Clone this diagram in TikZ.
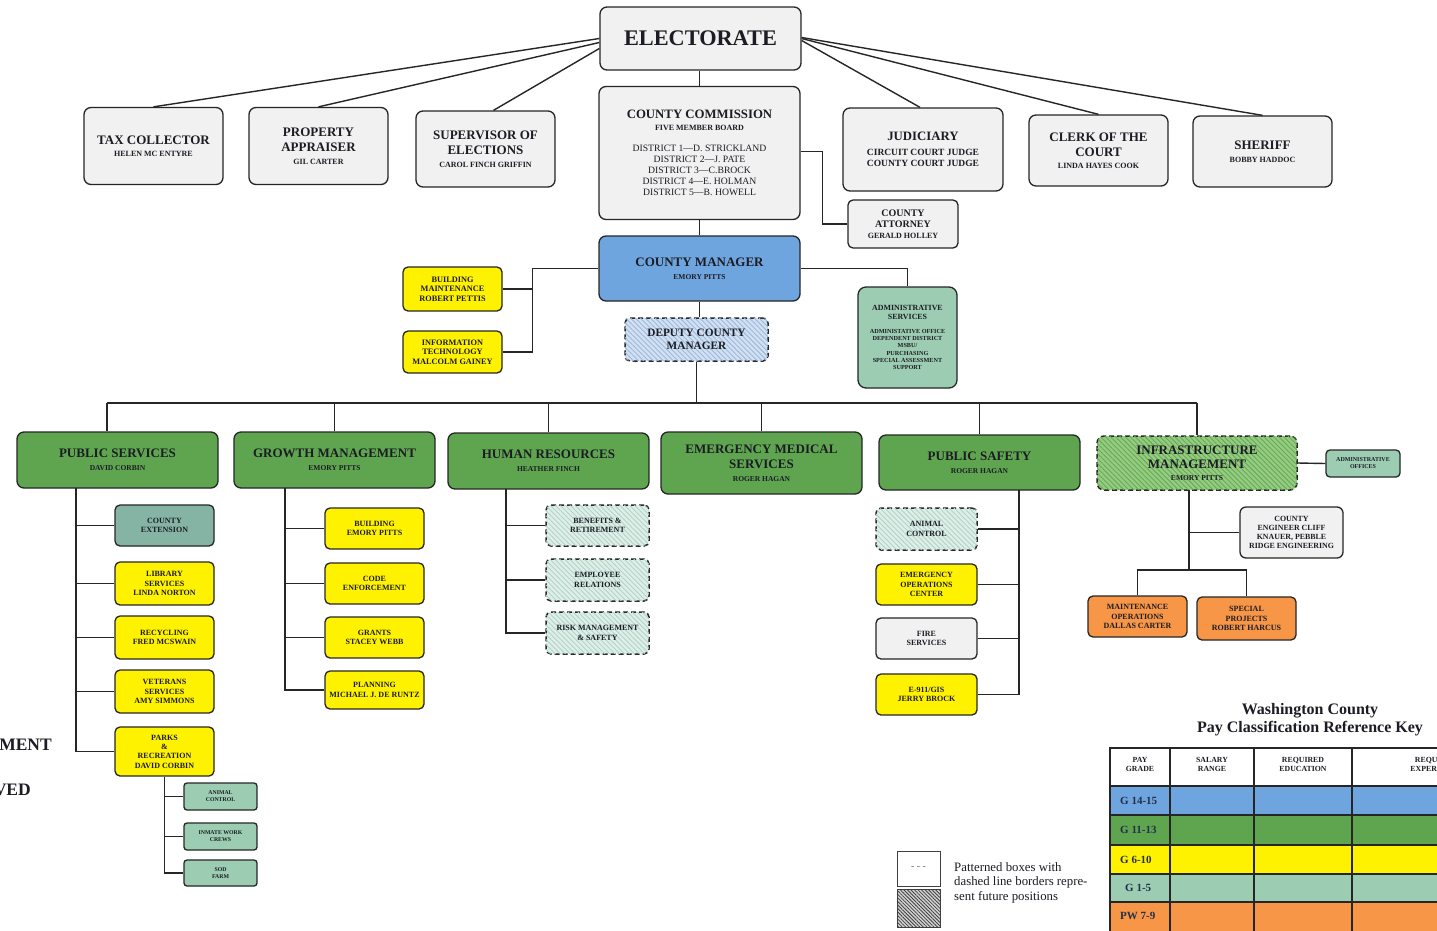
\documentclass[tikz,border=0pt]{standalone}
\usepackage{fontspec}
\setmainfont{Liberation Serif}
\usetikzlibrary{patterns.meta}
\newcommand\myfs[2]{\fontsize{#1}{#2}\selectfont}
\definecolor{boxgray}{HTML}{F1F1F1}
\definecolor{mgrblue}{HTML}{6FA5DE}
\definecolor{deptgreen}{HTML}{5FA550}
\definecolor{yel}{HTML}{FFF200}
\definecolor{teal}{HTML}{9CCDB2}
\definecolor{ceteal}{HTML}{86B4A4}
\definecolor{orng}{HTML}{F79646}
\definecolor{txt}{HTML}{1C1C24}
\definecolor{deplight}{HTML}{D2E1F2}
\definecolor{dephatch}{HTML}{9DB9DC}
\definecolor{hrlight}{HTML}{DDEFE8}
\definecolor{hrhatch}{HTML}{B4D3C6}
\definecolor{inflight}{HTML}{94CC80}
\definecolor{infhatch}{HTML}{6AA85A}
\definecolor{navy}{HTML}{22304A}
\tikzset{
  box/.style={draw=black!85, line width=1.3pt, rounded corners=7pt, align=center, inner sep=1pt, text=txt},
  gbox/.style={box, fill=boxgray},
  bbox/.style={box, fill=mgrblue},
  dbox/.style={box, fill=deptgreen, minimum width=201pt, font=\myfs{13}{11}\bfseries},
  ybox/.style={box, fill=yel, rounded corners=5pt, minimum width=99pt, font=\myfs{8}{9.3}\bfseries},
  tbox/.style={box, fill=teal, rounded corners=5pt},
  obox/.style={box, fill=orng, rounded corners=5pt, minimum width=99pt, font=\myfs{8}{9.3}\bfseries},
  fut/.style={box, dash pattern=on 5pt off 3pt, line width=1.5pt},
  conn/.style={draw=black!85, line width=1.4pt},
  hatch/.style={postaction={pattern={Lines[angle=-45,distance=3.5pt,line width=0.9pt]}, pattern color=#1}},
}
\begin{document}
\begin{tikzpicture}[x=1pt,y=-1pt]
\clip (0,0) rectangle (1437,930);
\fill[white] (0,0) rectangle (1437,930);

% ---------- top level ----------
\node[gbox, minimum width=201pt, minimum height=63pt, font=\myfs{22.3}{24}\bfseries] (elect) at (700.5,38.5) {ELECTORATE};

\node[gbox, minimum width=139pt, minimum height=77pt, font=\myfs{13}{10.5}\bfseries] (tax) at (153.5,146)
  {TAX COLLECTOR\\[2pt]\myfs{8}{10.5}HELEN MC ENTYRE};
\node[gbox, minimum width=139pt, minimum height=77pt, font=\myfs{13}{10.5}\bfseries] (prop) at (318.5,146)
  {PROPERTY\\[4.5pt]APPRAISER\\[2pt]\myfs{8}{10.5}GIL CARTER};
\node[gbox, minimum width=139pt, minimum height=76pt, font=\myfs{13}{10.5}\bfseries] (sup) at (485.5,149)
  {SUPERVISOR OF\\[4.5pt]ELECTIONS\\[2pt]\myfs{8}{10.5}CAROL FINCH GRIFFIN};
\node[gbox, minimum width=201pt, minimum height=133pt, font=\myfs{12.8}{11}\bfseries] (comm) at (699.5,153)
  {COUNTY COMMISSION\\[1.5pt]\myfs{8}{11}FIVE MEMBER BOARD\\[10pt]\mdseries\myfs{9.7}{11}DISTRICT 1—D. STRICKLAND\\\mdseries\myfs{9.7}{11}DISTRICT 2—J. PATE\\\mdseries\myfs{9.7}{11}DISTRICT 3—C.BROCK\\\mdseries\myfs{9.7}{11}DISTRICT 4—E. HOLMAN\\\mdseries\myfs{9.7}{11}DISTRICT 5—B. HOWELL};
\node[gbox, minimum width=160pt, minimum height=83pt, font=\myfs{12.8}{11}\bfseries] (jud) at (923,149.5)
  {JUDICIARY\\[4pt]\myfs{9.5}{11}CIRCUIT COURT JUDGE\\\myfs{9.5}{11}COUNTY COURT JUDGE};
\node[gbox, minimum width=139pt, minimum height=71pt, font=\myfs{13}{10.5}\bfseries] (clerk) at (1098.5,150.5)
  {CLERK OF THE\\[4.5pt]COURT\\[2pt]\myfs{8}{10.5}LINDA HAYES COOK};
\node[gbox, minimum width=139pt, minimum height=71pt, font=\myfs{13}{10.5}\bfseries] (sheriff) at (1262.5,151.5)
  {SHERIFF\\[2pt]\myfs{8}{10.5}BOBBY HADDOC};
\node[gbox, rounded corners=5pt, minimum width=110pt, minimum height=48pt, font=\myfs{10}{11}\bfseries] (atty) at (903,224)
  {COUNTY\\ATTORNEY\\\myfs{8}{11}GERALD HOLLEY};

\draw[conn] (elect.west) -- (tax.north);
\draw[conn] ([yshift=-4pt]elect.west) -- (prop.north);
\draw[conn] ([yshift=-10pt]elect.west) -- ([xshift=8pt]sup.north);
\draw[conn] ([yshift=-2pt]elect.east) -- ([xshift=-3pt]jud.north);
\draw[conn] (elect.east) -- (clerk.north);
\draw[conn] ([yshift=1pt]elect.east) -- (sheriff.north);
\draw[conn] (comm.north) -- (comm.north |- elect.south);
\draw[conn] ([yshift=1.5pt]comm.east) -- ++(22,0) |- (atty.west);

% ---------- county manager ----------
\node[bbox, minimum width=201pt, minimum height=65pt, font=\myfs{13}{11}\bfseries] (mgr) at (699.5,268.5)
  {COUNTY MANAGER\\[2pt]\myfs{7.5}{11}EMORY PITTS};
\node[ybox, minimum height=44pt, font=\myfs{8.3}{9.6}\bfseries] (bm) at (452.5,289)
  {BUILDING\\MAINTENANCE\\ROBERT PETTIS};
\node[ybox, minimum height=42pt, font=\myfs{8.3}{9.6}\bfseries] (it) at (452.5,352)
  {INFORMATION\\TECHNOLOGY\\MALCOLM GAINEY};
\node[tbox, rounded corners=8pt, minimum width=99pt, minimum height=101pt, font=\myfs{7.9}{9}\bfseries] (admin) at (907.5,337.5)
  {ADMINISTRATIVE\\SERVICES\\[5pt]\myfs{6.2}{7}ADMINISTATIVE OFFICE\\[-1.7pt]\myfs{6.2}{7}DEPENDENT DISTRICT\\[-1.7pt]\myfs{6.2}{7}MSBU/\\[-1.7pt]\myfs{6.2}{7}PURCHASING\\[-1.7pt]\myfs{6.2}{7}SPECIAL ASSESSMENT\\[-1.7pt]\myfs{6.2}{7}SUPPORT};
\node[fut, fill=deplight, hatch=dephatch, rounded corners=5pt, minimum width=143pt, minimum height=43pt, font=\myfs{11.3}{12.5}\bfseries] (deputy) at (696.5,339.5)
  {DEPUTY COUNTY\\MANAGER};

\draw[conn] (comm.south) -- (comm.south |- mgr.north);
\draw[conn] (mgr.west) -- ++(-66,0) coordinate (mj);
\draw[conn] (mj) |- (bm.east);
\draw[conn] (mj) |- (it.east);
\draw[conn] (mgr.east) -| (admin.north);
\draw[conn] (mgr.south) -- (mgr.south |- deputy.north);

% ---------- departments ----------
\node[dbox, minimum height=56pt] (ps) at (117.5,460) {PUBLIC SERVICES\\[2pt]\myfs{7.5}{11}DAVID CORBIN};
\node[dbox, minimum height=56pt] (gm) at (334.5,460) {GROWTH MANAGEMENT\\[2pt]\myfs{7.5}{11}EMORY PITTS};
\node[dbox, minimum height=56pt] (hr) at (548.5,461) {HUMAN RESOURCES\\[2pt]\myfs{7.5}{11}HEATHER FINCH};
\node[dbox, minimum height=62pt] (ems) at (761.5,463) {EMERGENCY MEDICAL\\[3.5pt]SERVICES\\[2pt]\myfs{7.5}{11}ROGER HAGAN};
\node[dbox, minimum height=55pt] (psaf) at (979.5,462.5) {PUBLIC SAFETY\\[2pt]\myfs{7.5}{11}ROGER HAGAN};
\node[fut, fill=inflight, hatch=infhatch, minimum width=200pt, minimum height=54pt, font=\myfs{13}{11}\bfseries] (infra) at (1197,463) {INFRASTRUCTURE\\[3.5pt]MANAGEMENT\\[1pt]\myfs{7.5}{11}EMORY PITTS};
\node[tbox, rounded corners=4pt, minimum width=74pt, minimum height=27pt, font=\myfs{6}{7}\bfseries] (admoff) at (1363,463.5) {ADMINISTRATIVE\\OFFICES};

\coordinate (busL) at (107,403);
\coordinate (busR) at (1197,403);
\draw[conn] (deputy.south) -- (deputy.south |- busL);
\draw[conn] (busL) -- (busR);
\draw[conn] (busL) -- (busL |- ps.north);
\draw[conn] (gm.north) -- (gm.north |- busL);
\draw[conn] (hr.north) -- (hr.north |- busL);
\draw[conn] (ems.north) -- (ems.north |- busL);
\draw[conn] (psaf.north) -- (psaf.north |- busL);
\draw[conn] (infra.north) -- (infra.north |- busL);
\draw[conn] (infra.east) -- (admoff.west);

% ---------- public services ----------
\node[tbox, fill=ceteal, minimum width=99pt, minimum height=41pt, font=\myfs{8}{9.3}\bfseries] (ce) at (164.5,525.5) {COUNTY\\EXTENSION};
\node[ybox, minimum height=43pt] (lib) at (164.5,583.5) {LIBRARY\\SERVICES\\LINDA NORTON};
\node[ybox, minimum height=43pt] (rec) at (164.5,637.5) {RECYCLING\\FRED MCSWAIN};
\node[ybox, minimum height=43pt] (vet) at (164.5,691.5) {VETERANS\\SERVICES\\AMY SIMMONS};
\node[ybox, minimum height=49pt] (parks) at (164.5,751.5) {PARKS\\\&\\RECREATION\\DAVID CORBIN};
\node[tbox, rounded corners=3pt, minimum width=73pt, minimum height=27pt, font=\myfs{5.8}{7}\bfseries] (ac1) at (220.5,796.5) {ANIMAL\\CONTROL};
\node[tbox, rounded corners=3pt, minimum width=73pt, minimum height=27pt, font=\myfs{5.8}{7}\bfseries] (iwc) at (220.5,836.5) {INMATE WORK\\CREWS};
\node[tbox, rounded corners=3pt, minimum width=73pt, minimum height=26pt, font=\myfs{5.8}{7}\bfseries] (sod) at (220.5,873) {SOD\\FARM};

\coordinate (psv) at (76,488);
\draw[conn] (psv) |- (parks.west);
\foreach \n in {ce,lib,rec,vet} \draw[conn] (\n.west) -- (\n.west -| psv);
\draw[conn] (parks.south) |- (sod.west);
\draw[conn] (ac1.west) -- (ac1.west -| parks.south);
\draw[conn] (iwc.west) -- (iwc.west -| parks.south);

% ---------- growth management ----------
\node[ybox, minimum height=41pt] (bld) at (374.5,528.5) {BUILDING\\EMORY PITTS};
\node[ybox, minimum height=41pt] (code) at (374.5,583.5) {CODE\\ENFORCEMENT};
\node[ybox, minimum height=41pt] (grants) at (374.5,637.5) {GRANTS\\STACEY WEBB};
\node[ybox, minimum height=38pt] (plan) at (374.5,690) {PLANNING\\MICHAEL J. DE RUNTZ};
\coordinate (gmv) at (285,488);
\draw[conn] (gmv) |- (plan.west);
\foreach \n in {bld,code,grants} \draw[conn] (\n.west) -- (\n.west -| gmv);

% ---------- human resources ----------
\node[fut, fill=hrlight, hatch=hrhatch, rounded corners=5pt, minimum width=103pt, minimum height=41pt, font=\myfs{8}{9.3}\bfseries] (ben) at (597.5,525.5) {BENEFITS \&\\RETIREMENT};
\node[fut, fill=hrlight, hatch=hrhatch, rounded corners=5pt, minimum width=103pt, minimum height=42pt, font=\myfs{8}{9.3}\bfseries] (emp) at (597.5,580) {EMPLOYEE\\RELATIONS};
\node[fut, fill=hrlight, hatch=hrhatch, rounded corners=5pt, minimum width=103pt, minimum height=42pt, font=\myfs{8}{9.3}\bfseries] (risk) at (597.5,633) {RISK MANAGEMENT\\\& SAFETY};
\coordinate (hrv) at (506,489);
\draw[conn] (hrv) |- (risk.west);
\foreach \n in {ben,emp} \draw[conn] (\n.west) -- (\n.west -| hrv);

% ---------- public safety ----------
\node[fut, fill=hrlight, hatch=hrhatch, rounded corners=5pt, minimum width=101pt, minimum height=42pt, font=\myfs{8}{9.3}\bfseries] (ac2) at (926.5,529) {ANIMAL\\CONTROL};
\node[ybox, minimum width=101pt, minimum height=41pt] (eoc) at (926.5,584.5) {EMERGENCY\\OPERATIONS\\CENTER};
\node[gbox, rounded corners=5pt, minimum width=101pt, minimum height=41pt, font=\myfs{8}{9.3}\bfseries] (fire) at (926.5,638.5) {FIRE\\SERVICES};
\node[ybox, minimum width=101pt, minimum height=41pt] (e911) at (926.5,694.5) {E-911/GIS\\JERRY BROCK};
\coordinate (pfv) at (1019,490);
\draw[conn] (pfv) |- (e911.east);
\foreach \n in {ac2,eoc,fire} \draw[conn] (\n.east) -- (\n.east -| pfv);

% ---------- infrastructure ----------
\node[gbox, rounded corners=6pt, minimum width=103pt, minimum height=51pt, font=\myfs{7.9}{9}\bfseries] (eng) at (1291.5,532.5) {COUNTY\\ENGINEER CLIFF\\KNAUER, PEBBLE\\RIDGE ENGINEERING};
\node[obox, minimum height=41pt] (maint) at (1137.5,616.5) {MAINTENANCE\\OPERATIONS\\DALLAS CARTER};
\node[obox, minimum height=43pt] (spec) at (1246.5,618.5) {SPECIAL\\PROJECTS\\ROBERT HARCUS};
\coordinate (inv) at (1189,490);
\coordinate (inj) at (1189,570);
\draw[conn] (inv) -- (inj);
\draw[conn] (eng.west) -- (eng.west -| inv);
\draw[conn] (maint.north) |- (inj) -| (spec.north);

% ---------- legend ----------
\node[font=\myfs{16}{18}\bfseries, text=txt, align=center] (ltitle) at (1310,720) {Washington County\\Pay Classification Reference Key};
\fill[mgrblue] (1110,786) rectangle (1470,815);
\fill[deptgreen] (1110,815) rectangle (1470,845);
\fill[yel] (1110,845) rectangle (1470,874);
\fill[teal] (1110,874) rectangle (1470,902);
\fill[orng] (1110,902) rectangle (1470,932);
\draw[line width=1.4pt, black!85] (1110,748) rectangle (1470,932);
\foreach \yy in {786,815,845,874,902} \draw[line width=1.3pt, black!85] (1110,\yy) -- (1470,\yy);
\foreach \xx in {1170,1254,1352} \draw[line width=1.3pt, black!85] (\xx,748) -- (\xx,932);
\begin{scope}[every node/.style={font=\myfs{7.8}{9}\bfseries, text=txt, align=center}]
\node (h1) at (1140,764) {PAY\\GRADE};
\node (h2) at (1212,764) {SALARY\\RANGE};
\node (h3) at (1303,764) {REQUIRED\\EDUCATION};
\node (h4) at (1436,764) {REQUIRED\\EXPERIENCE};
\end{scope}
\begin{scope}[every node/.style={font=\myfs{11}{12}\bfseries, text=navy, anchor=west, inner sep=0}]
\node (g1) at (1120,800.5) {G 14-15};
\node (g2) at (1120,830) {G 11-13};
\node (g3) at (1120,859.5) {G 6-10};
\node (g4) at (1125,888) {G 1-5};
\node (g5) at (1120,916) {PW 7-9};
\end{scope}

\node[draw=black!75, line width=0.8pt, minimum width=43pt, minimum height=35pt, inner sep=0, font=\myfs{10}{12}, text=black!60] (lgd1) at (918.5,868.5) {- - -};
\node[draw=black!75, line width=0.8pt, fill=gray!35, minimum width=43pt, minimum height=38pt, inner sep=0, postaction={pattern={Lines[angle=-45,distance=2.5pt,line width=0.8pt]}, pattern color=black!75}] (lgd2) at (918.5,908) {};
\node[anchor=north west, align=left, inner sep=0, font=\myfs{12.8}{14.5}, text=txt] (lgdtxt) at (954,862) {Patterned boxes with\\dashed line borders repre-\\sent future positions};

% ---------- cut-off text at left edge ----------
\node[anchor=east, inner sep=0, font=\myfs{17.5}{18}\bfseries, text=txt] (cut1) at (52,745) {MENT};
\node[anchor=east, inner sep=0, font=\myfs{17.5}{18}\bfseries, text=txt] (cut2) at (31,790) {VED};
\end{tikzpicture}
\end{document}
